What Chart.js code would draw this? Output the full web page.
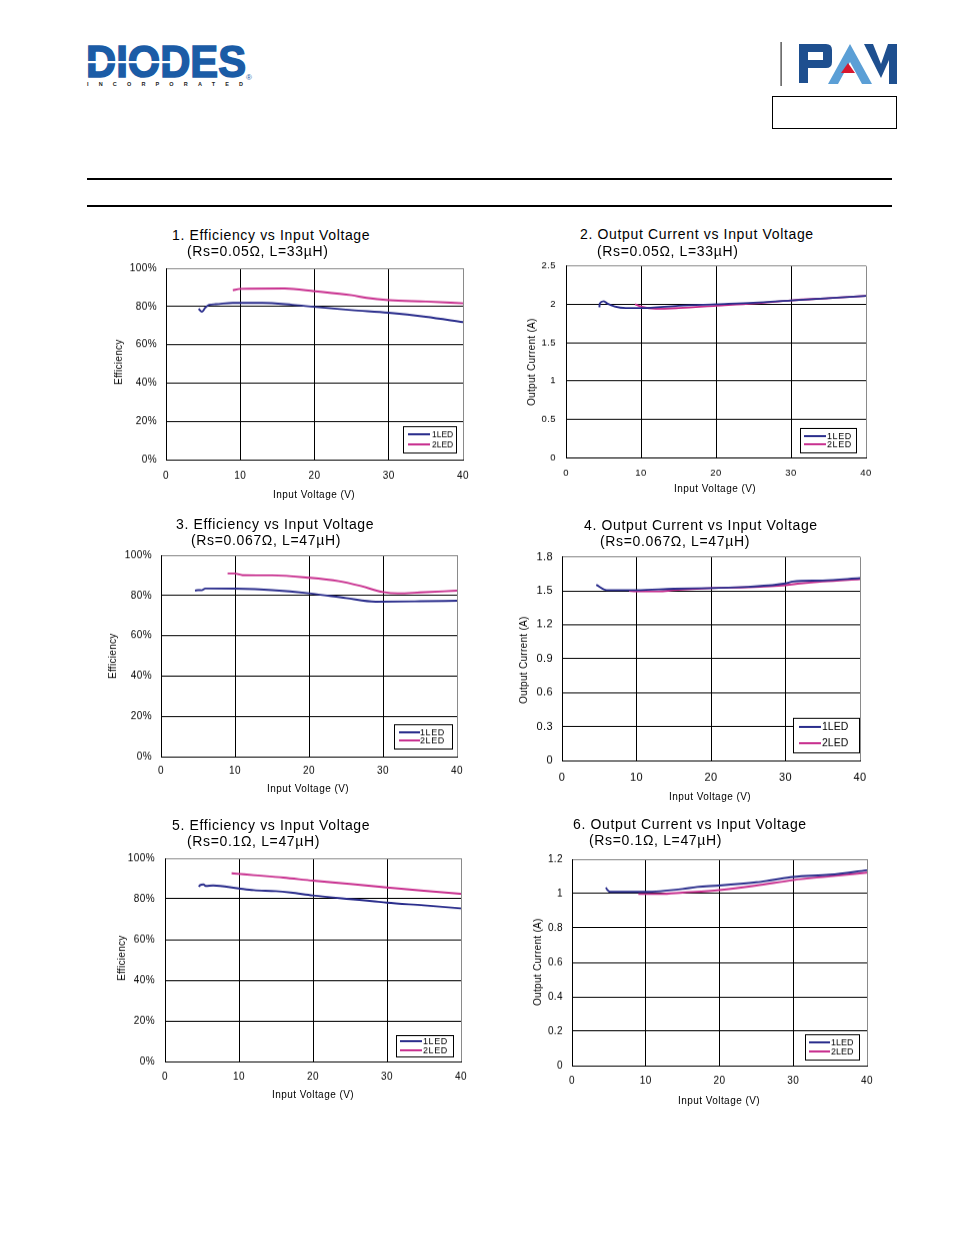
<!DOCTYPE html>
<html>
<head>
<meta charset="utf-8">
<script src="https://cdn.jsdelivr.net/npm/chart.js@4.4.1/dist/chart.umd.min.js"></script>
<style>
  body { margin: 0; background: #fff; }
  #page { position: relative; width: 954px; height: 1235px; overflow: hidden;
          font-family: 'Liberation Sans', Arial, sans-serif; color: #000; }
  .t { position: absolute; white-space: nowrap; line-height: 1; transform: translateY(-50%); }
  .title { font-size: 14px; letter-spacing: .65px; }
  .xt { font-size: 10px; letter-spacing: .45px; transform: translate(-50%, -50%); }
  .yt { font-size: 10px; letter-spacing: .3px; transform: translate(-50%, -50%) rotate(-90deg); }
  canvas { position: absolute; }
  .rule { position: absolute; left: 87px; width: 805px; height: 2px; background: #000; }
</style>
</head>
<body>
<div id="page">
  <!-- header logos -->
  <svg style="position:absolute;left:80px;top:36px" width="185" height="56">
    <text x="6" y="41" font-family="Liberation Sans, Arial" font-weight="bold" font-size="45"
          fill="#1b5ca6" stroke="#1b5ca6" stroke-width="1.6"
          textLength="160" lengthAdjust="spacingAndGlyphs">DIODES</text>
    <rect x="6" y="25" width="92" height="2.2" fill="#fff"/>
    <text x="7" y="49.5" font-family="Liberation Sans, Arial" font-weight="bold" font-size="5.5"
          fill="#222" textLength="156" lengthAdjust="spacing">INCORPORATED</text>
    <text x="166" y="44" font-family="Liberation Sans, Arial" font-size="8" fill="#1b5ca6">®</text>
  </svg>
  <svg style="position:absolute;left:775px;top:38px" width="130" height="52">
    <rect x="5.5" y="4" width="1.2" height="44" fill="#333"/>
    <path fill="#1e4f8f" fill-rule="evenodd"
          d="M24 6 H51 Q57 6 57 12 V24 Q57 30 51 30 H33 V45 H24 Z M33 14 H48 V22 H33 Z"/>
    <path fill="#5b9fd6" fill-rule="evenodd" d="M53 46 L75 6 L97 46 Z M63 46 L75 24 L87 46 Z"/>
    <path fill="#d8182f" d="M73 25 L80 35 L66 35 Z"/>
    <path fill="#1e4f8f" d="M89 6 H98 L106 26 L113 6 H122 V46 H114 V22 L106 40 L99 26 L92 12 Z"/>
  </svg>
  <div style="position:absolute;left:772px;top:96px;width:123px;height:31px;border:1px solid #000"></div>
  <div class="rule" style="top:178px"></div>
  <div class="rule" style="top:205px"></div>
</div>

<script>
// ---- data (input voltage V, efficiency %, output current A) ----
const voltTicks = [0, 10, 20, 30, 40]
const effTicks = [0, 20, 40, 60, 80, 100]
const cur2Ticks = [0, 0.5, 1, 1.5, 2, 2.5]
const cur4Ticks = [0, 0.3, 0.6, 0.9, 1.2, 1.5, 1.8]
const cur6Ticks = [0, 0.2, 0.4, 0.6, 0.8, 1, 1.2]
const seriesNames = ['1LED', '2LED']

// 1. Efficiency, Rs=0.05 ohm, L=33uH
const vin1a = [4.4, 4.85, 5.3, 5.8, 6.7, 9, 13, 17, 20, 25, 30, 35, 40]
const eff1a = [78.8, 77.2, 79.4, 80.9, 81.2, 81.9, 81.9, 80.9, 79.8, 78.1, 76.7, 74.6, 71.8]
const vin1b = [9, 10, 16, 20, 25, 27, 30, 35, 40]
const eff1b = [88.5, 89.2, 89.4, 88, 85.9, 84.5, 83.3, 82.6, 81.7]

// 2. Output current, Rs=0.05 ohm, L=33uH
const vin2a = [4.45, 4.5, 5.0, 5.5, 6.5, 8, 10, 15, 20, 25, 30, 35, 40]
const cur2a = [1.96, 2.01, 2.04, 2.01, 1.97, 1.95, 1.95, 1.98, 2.0, 2.02, 2.05, 2.08, 2.11]
const vin2b = [9.2, 10, 12, 15, 20, 25, 30, 35, 40]
const cur2b = [2.0, 1.97, 1.94, 1.95, 1.98, 2.01, 2.05, 2.08, 2.11]

// 3. Efficiency, Rs=0.067 ohm, L=47uH
const vin3a = [4.6, 5, 5.5, 6, 10, 15, 20, 25, 29, 35, 40]
const eff3a = [82.4, 82.7, 82.6, 83.5, 83.4, 82.7, 81.1, 78.7, 76.9, 77.1, 77.4]
const vin3b = [9, 10, 11, 15, 20, 24, 27, 30, 32, 35, 40]
const eff3b = [90.9, 90.9, 90.1, 90, 88.8, 87.1, 84.7, 81.7, 81.1, 81.5, 82.4]

// 4. Output current, Rs=0.067 ohm, L=47uH
const vin4a = [4.6, 6, 10, 15, 20, 25, 30, 31, 35, 40]
const cur4a = [1.553, 1.506, 1.506, 1.518, 1.524, 1.535, 1.565, 1.582, 1.591, 1.612]
const vin4b = [9, 10, 13, 15, 20, 25, 30, 32, 35, 40]
const cur4b = [1.5, 1.494, 1.494, 1.506, 1.524, 1.532, 1.55, 1.565, 1.582, 1.603]

// 5. Efficiency, Rs=0.1 ohm, L=47uH
const vin5a = [4.6, 4.7, 5.2, 5.5, 6.5, 10, 12, 15, 17, 20, 25, 28, 30, 35, 40]
const eff5a = [85.9, 86.7, 87.1, 86.4, 86.6, 85.1, 84.3, 83.8, 83.1, 81.7, 79.9, 78.9, 78.1, 76.8, 75.3]
const vin5b = [9, 10, 12, 16, 20, 25, 30, 35, 40]
const eff5b = [92.6, 92.3, 91.7, 90.5, 89.0, 87.4, 85.6, 84.0, 82.5]

// 6. Output current, Rs=0.1 ohm, L=47uH
const vin6a = [4.6, 4.8, 5.2, 10, 12, 15, 17, 20, 25, 27, 30, 35, 40]
const cur6a = [1.035, 1.021, 1.01, 1.01, 1.014, 1.027, 1.039, 1.047, 1.066, 1.078, 1.097, 1.110, 1.136]
const vin6b = [9, 12, 15, 20, 25, 30, 35, 40]
const cur6b = [0.998, 0.998, 1.006, 1.021, 1.047, 1.079, 1.101, 1.122]

const LINE_COLORS = ['#2a2d8c', '#c8308f']
const FONT = "'Liberation Sans', Arial, sans-serif"

const pct = v => v + '%'
const num = v => String(v)

// panel layout: plot box [left, top, right, bottom] in page pixels
const panels = [
  { n: 1, plot: [166, 268, 463, 460], yTicks: effTicks, fmt: pct, data: [[vin1a, eff1a], [vin1b, eff1b]],
    xOff: 16.5, yPad: 9, size: 10,
    title: ['1. Efficiency vs Input Voltage', '(Rs=0.05Ω, L=33µH)'], tpos: [172, 235, 187, 251],
    xTitle: [314, 495], yTitle: ['Efficiency', 119, 362],
    legend: { w: 53, h: 26, right: 7, bottom: 7, rows: [8, 18], lineX: 5, lineLen: 22, textX: 29, size: 8.5, ls: 0 } },
  { n: 2, plot: [566, 266, 866, 458], yTicks: cur2Ticks, fmt: num, data: [[vin2a, cur2a], [vin2b, cur2b]],
    xOff: 15, yPad: 10, size: 9.5,
    title: ['2. Output Current vs Input Voltage', '(Rs=0.05Ω, L=33µH)'], tpos: [580, 234, 597, 251],
    xTitle: [715, 489], yTitle: ['Output Current (A)', 532, 362],
    legend: { w: 56, h: 24, right: 10, bottom: 5, rows: [8, 16], lineX: 4, lineLen: 22, textX: 27, size: 9, ls: 0.6 } },
  { n: 3, plot: [161, 555, 457, 757], yTicks: effTicks, fmt: pct, data: [[vin3a, eff3a], [vin3b, eff3b]],
    xOff: 14, yPad: 9, size: 10,
    title: ['3. Efficiency vs Input Voltage', '(Rs=0.067Ω, L=47µH)'], tpos: [176, 524, 191, 540],
    xTitle: [308, 789], yTitle: ['Efficiency', 113, 656],
    legend: { w: 58, h: 24, right: 5, bottom: 8, rows: [8, 16], lineX: 5, lineLen: 21, textX: 26, size: 9, ls: 0.6 } },
  { n: 4, plot: [562, 557, 860, 761], yTicks: cur4Ticks, fmt: num, data: [[vin4a, cur4a], [vin4b, cur4b]],
    xOff: 17, yPad: 9, size: 11,
    title: ['4. Output Current vs Input Voltage', '(Rs=0.067Ω, L=47µH)'], tpos: [584, 525, 600, 541],
    xTitle: [710, 797], yTitle: ['Output Current (A)', 524, 660],
    legend: { w: 66, h: 34, right: 1, bottom: 8, rows: [9, 25], lineX: 6, lineLen: 22, textX: 29, size: 10.5, ls: 0 } },
  { n: 5, plot: [165, 858, 461, 1062], yTicks: effTicks, fmt: pct, data: [[vin5a, eff5a], [vin5b, eff5b]],
    xOff: 15, yPad: 10, size: 10,
    title: ['5. Efficiency vs Input Voltage', '(Rs=0.1Ω, L=47µH)'], tpos: [172, 825, 187, 841],
    xTitle: [313, 1095], yTitle: ['Efficiency', 122, 958],
    legend: { w: 57, h: 21, right: 8, bottom: 5, rows: [6, 15], lineX: 4, lineLen: 22, textX: 27, size: 9, ls: 0.6 } },
  { n: 6, plot: [572, 859, 867, 1066], yTicks: cur6Ticks, fmt: num, data: [[vin6a, cur6a], [vin6b, cur6b]],
    xOff: 15, yPad: 9, size: 10,
    title: ['6. Output Current vs Input Voltage', '(Rs=0.1Ω, L=47µH)'], tpos: [573, 824, 589, 840],
    xTitle: [719, 1101], yTitle: ['Output Current (A)', 538, 962],
    legend: { w: 54, h: 25, right: 8, bottom: 6, rows: [8, 17], lineX: 4, lineLen: 21, textX: 26, size: 9, ls: 0 } },
]

// boxed legend drawn inside the lower right corner of the plot
const legendBox = {
  id: 'legendBox',
  afterDatasetsDraw(chart, args, o) {
    const { ctx, chartArea: a } = chart
    const x0 = Math.round(a.right - o.right - o.w)
    const y0 = Math.round(a.bottom - o.bottom - o.h)
    ctx.save()
    ctx.fillStyle = '#fff'
    ctx.fillRect(x0, y0, o.w, o.h)
    ctx.strokeStyle = '#000'
    ctx.lineWidth = 1
    ctx.strokeRect(x0 + 0.5, y0 + 0.5, o.w, o.h)
    ctx.letterSpacing = o.ls + 'px'
    chart.data.datasets.forEach((ds, i) => {
      const y = y0 + o.rows[i]
      ctx.strokeStyle = ds.borderColor
      ctx.lineWidth = 2
      ctx.beginPath()
      ctx.moveTo(x0 + o.lineX, y)
      ctx.lineTo(x0 + o.lineX + o.lineLen, y)
      ctx.stroke()
      ctx.fillStyle = '#000'
      ctx.font = `${o.size}px ${FONT}`
      ctx.textBaseline = 'middle'
      ctx.fillText(ds.label, x0 + o.textX, y + 0.5)
    })
    ctx.restore()
  }
}

const tickSpacing = {
  id: 'tickSpacing',
  beforeDraw(chart) { chart.ctx.letterSpacing = '0.4px' }
}

const page = document.getElementById('page')

function addText(cls, txt, x, y) {
  const d = document.createElement('div')
  d.className = 't ' + cls
  d.textContent = txt
  d.style.left = x + 'px'
  d.style.top = y + 'px'
  page.appendChild(d)
}

const PAD_L = 60, PAD_T = 12, PAD_R = 20, PAD_B = 34

function place(canvas, x, y, w, h) {
  canvas.style.left = x + 'px'
  canvas.style.top = y + 'px'
  canvas.style.width = w + 'px'
  canvas.style.height = h + 'px'
}

panels.forEach(p => {
  const [l, t, r, b] = p.plot
  const canvas = document.createElement('canvas')
  const w = r - l + PAD_L + PAD_R
  const h = b - t + PAD_T + PAD_B
  canvas.width = w
  canvas.height = h
  place(canvas, l - PAD_L, t - PAD_T, w, h)
  page.appendChild(canvas)

  const yMax = p.yTicks[p.yTicks.length - 1]
  const xMax = voltTicks[voltTicks.length - 1]
  const lineH = p.size * 1.2

  const chart = new Chart(canvas.getContext('2d'), {
    type: 'line',
    data: {
      datasets: p.data.map(([xs, ys], i) => ({
        label: seriesNames[i],
        data: xs.map((x, k) => ({ x, y: ys[k] })),
        borderColor: LINE_COLORS[i],
        borderWidth: 1.9,
        pointRadius: 0,
        fill: false,
        cubicInterpolationMode: 'monotone',
      }))
    },
    options: {
      responsive: false,
      animation: false,
      events: [],
      layout: { padding: { top: PAD_T, right: PAD_R, left: 0, bottom: 0 } },
      scales: {
        x: {
          type: 'linear',
          min: 0,
          max: xMax,
          afterBuildTicks: s => { s.ticks = voltTicks.map(v => ({ value: v })) },
          afterFit: s => { s.height = PAD_B },
          ticks: { color: '#000', padding: p.xOff - lineH / 2, maxRotation: 0,
                   font: { family: FONT, size: p.size } },
          grid: { color: c => (c.tick && c.tick.value === xMax ? '#8a8a8a' : '#000'),
                  lineWidth: 1, drawTicks: false },
          border: { color: '#000', width: 1 },
        },
        y: {
          type: 'linear',
          min: 0,
          max: yMax,
          afterBuildTicks: s => { s.ticks = p.yTicks.map(v => ({ value: v })) },
          afterFit: s => { s.width = PAD_L },
          ticks: { color: '#000', padding: p.yPad, callback: p.fmt,
                   font: { family: FONT, size: p.size } },
          grid: { color: c => (c.tick && c.tick.value === yMax ? '#8a8a8a' : '#000'),
                  lineWidth: 1, drawTicks: false },
          border: { color: '#000', width: 1 },
        }
      },
      plugins: {
        legend: { display: false },
        tooltip: { enabled: false },
        legendBox: p.legend,
      }
    },
    plugins: [tickSpacing, legendBox]
  })

  // the layout may reserve a little extra room; grow/shift the canvas so the plot box lands on p.plot
  const a = chart.chartArea
  const dl = a.left - PAD_L, dt = a.top - PAD_T
  const dr = (w - PAD_R) - a.right, db = (h - PAD_B) - a.bottom
  if (dl || dt || dr || db) {
    chart.resize(w + dl + dr, h + dt + db)
    place(canvas, l - PAD_L - dl, t - PAD_T - dt, w + dl + dr, h + dt + db)
  }

  addText('title', p.title[0], p.tpos[0], p.tpos[1])
  addText('title', p.title[1], p.tpos[2], p.tpos[3])
  addText('xt', 'Input Voltage (V)', p.xTitle[0], p.xTitle[1])
  addText('yt', p.yTitle[0], p.yTitle[1], p.yTitle[2])
})
</script>
</body>
</html>
